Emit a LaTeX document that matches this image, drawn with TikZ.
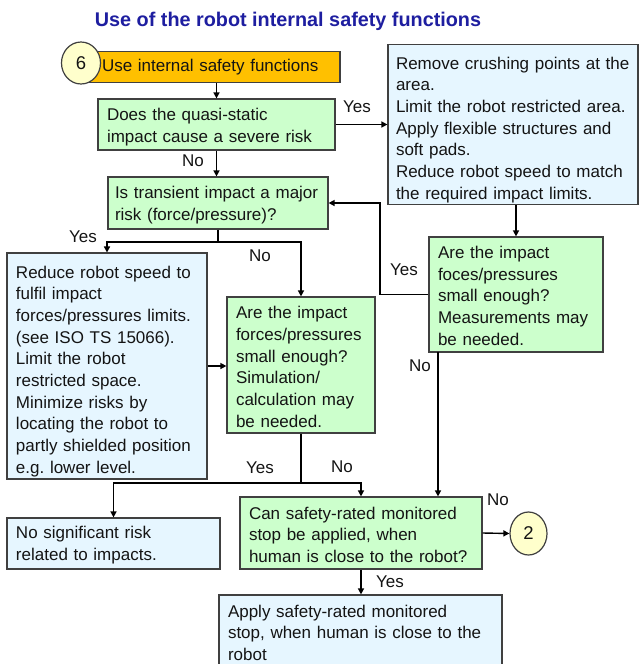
\documentclass[tikz,border=0pt]{standalone}
\usepackage{fontspec}
\setmainfont{Liberation Sans}
\usetikzlibrary{arrows.meta,shapes.geometric}
\definecolor{gfill}{RGB}{204,255,204}
\definecolor{bfill}{RGB}{230,246,255}
\definecolor{ofill}{RGB}{255,192,0}
\definecolor{yfill}{RGB}{255,255,204}
\definecolor{edgec}{RGB}{64,64,64}
\definecolor{ttl}{RGB}{30,30,160}
\definecolor{txt}{RGB}{20,20,20}
\frenchspacing
\begin{document}
\begin{tikzpicture}[x=1pt,y=-1pt,
  every node/.style={font=\fontsize{17}{21.7}\selectfont, text=txt},
  box/.style={draw=edgec, line width=1.2pt, inner xsep=9pt, inner ysep=2pt, align=left, rectangle},
  gbox/.style={box, fill=gfill},
  bbox/.style={box, fill=bfill},
  dn/.style={execute at begin node={\rule{0pt}{#1}}},
  sz/.style n args={3}{minimum width=#1pt, minimum height=#2pt, text width=#3pt},
  conn/.style={ellipse, draw=edgec, line width=1.2pt, fill=yfill, inner sep=0pt, minimum width=39pt, minimum height=42pt, font=\fontsize{18.5}{22}\selectfont},
  arr/.style={draw=black, line width=1.4pt, -{Triangle[length=6pt,width=6pt]}},
  lnk/.style={draw=black, line width=1.4pt},
  lbl/.style={inner sep=0pt}
]
\useasboundingbox[fill=white] (0,0) rectangle (640,664);

\node[anchor=base, font=\bfseries\fontsize{19.8}{24}\selectfont, text=ttl] (title) at (288,26) {Use of the robot internal safety functions};

\node[box, fill=ofill, inner xsep=12pt, sz={250}{31}{226}] (start) at (215,67) {Use internal safety functions};
\node[conn] (c6) at (81,63) {6};

\node[gbox, dn=17pt, sz={237}{51}{219}] (q1) at (216.5,124.5) {Does the quasi-static\\impact cause a severe risk};
\node[bbox, dn=23pt, inner xsep=8pt, sz={250}{157}{234}] (m1) at (513,124.5) {Remove crushing points at the\\area.\\Limit the robot restricted area.\\Apply flexible structures and\\soft pads.\\Reduce robot speed to match\\the required impact limits.};
\node[gbox, dn=16pt, inner xsep=7pt, sz={220}{52}{206}] (q2) at (218,203) {Is transient impact a major\\risk (force/pressure)?};
\node[gbox, dn=15pt, sz={174}{115}{156}] (q3) at (516,294.5) {Are the impact\\foces/pressures\\small enough?\\Measurements may\\be needed.};
\node[bbox, dn=23pt, sz={200}{222}{182}] (m2) at (107,366) {Reduce robot speed to\\fulfil impact\\forces/pressures limits.\\(see ISO TS 15066).\\Limit the robot\\restricted space.\\Minimize risks by\\locating the robot to\\partly shielded position\\e.g. lower level.};
\node[gbox, dn=16pt, sz={148}{136}{130}] (q4) at (301,365) {Are the impact\\forces/pressures\\small enough?\\Simulation/\\calculation may\\be needed.};
\node[bbox, dn=16pt, sz={213}{51}{195}] (r1) at (113.5,543.5) {No significant risk\\related to impacts.};
\node[gbox, dn=16pt, sz={242}{72}{224}] (q5) at (361,533) {Can safety-rated monitored\\stop be applied, when\\human is close to the robot?};
\node[conn, minimum width=37pt, minimum height=43pt] (c2) at (528.5,533.5) {2};
\node[bbox, dn=18pt, sz={283}{70}{265}] (r2) at (360.5,630) {Apply safety-rated monitored\\stop, when human is close to the\\robot};

% connectors
\draw[arr] (q1.north |- start.south) -- (q1.north);
\draw[arr] (q1.east) -- (q1.east -| m1.west);
\draw[arr] (q1.south) -- (q1.south |- q2.north);
\draw[arr] (q3.north |- m1.south) -- (q3.north);
\coordinate (yl) at (380,294.5);
\draw[arr] (q3.west) -- (yl) |- (q2.east);
\coordinate (j1) at (218,242);
\draw[lnk] (q2.south) -- (j1);
\draw[arr] (j1) -| (m2.north);
\draw[arr] (j1) -| (q4.north);
\draw[arr] (m2.east) -- (m2.east -| q4.west);
\coordinate (j2) at (301,483);
\draw[lnk] (q4.south) -- (j2);
\draw[arr] (j2) -| (r1.north);
\draw[arr] (j2) -| (q5.north);
\coordinate (q3b) at (438,352);
\draw[arr] (q3b) -- (q3b |- q5.north);
\draw[arr] (q5.east) -- (c2.west);
\draw[arr] (q5.south) -- (q5.south |- r2.north);

% labels
\node[lbl] (l1) at (357,107) {Yes};
\node[lbl] (l2) at (193,161) {No};
\node[lbl] (l3) at (404,270) {Yes};
\node[lbl] (l4) at (83,237) {Yes};
\node[lbl] (l5) at (260,256) {No};
\node[lbl] (l6) at (260,468) {Yes};
\node[lbl] (l7) at (342,467) {No};
\node[lbl] (l8) at (420,366) {No};
\node[lbl] (l9) at (498,500) {No};
\node[lbl] (l10) at (390,582) {Yes};
\end{tikzpicture}
\end{document}
